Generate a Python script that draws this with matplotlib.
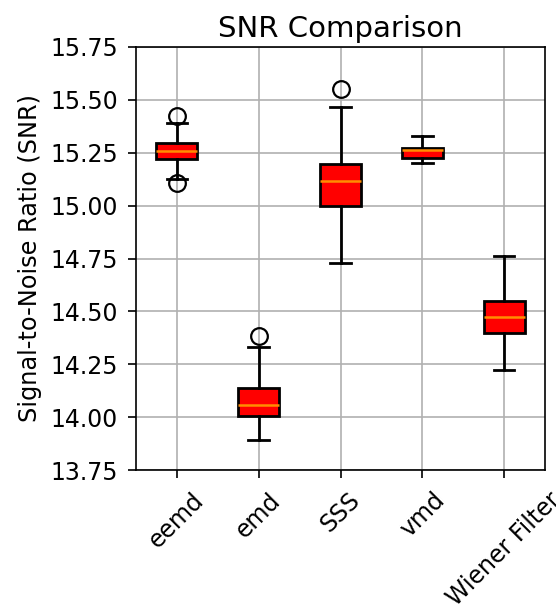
import matplotlib
matplotlib.use("Agg")
import matplotlib.pyplot as plt

methods = ["eemd", "emd", "SSS", "vmd", "Wiener Filter"]
q1 = [15.220, 14.006, 15.000, 15.226, 14.398]
median = [15.260, 14.058, 15.118, 15.261, 14.474]
q3 = [15.295, 14.137, 15.195, 15.274, 14.547]
whisker_low = [15.125, 13.890, 14.730, 15.203, 14.225]
whisker_high = [15.390, 14.330, 15.464, 15.330, 14.762]
outliers = [[15.425, 15.105], [14.385], [15.553], [], []]
yticks = [13.75, 14.00, 14.25, 14.50, 14.75, 15.00, 15.25, 15.50, 15.75]

stats = []
for i, name in enumerate(methods):
    stats.append(dict(label=name, q1=q1[i], med=median[i], q3=q3[i],
                      whislo=whisker_low[i], whishi=whisker_high[i],
                      fliers=outliers[i]))

fig = plt.figure(figsize=(5.56, 6.09), dpi=100)
ax = fig.add_axes([136/556, 139/609, 409/556, 423/609])

ax.bxp(stats, patch_artist=True, widths=0.5,
       boxprops=dict(facecolor="red", edgecolor="black", linewidth=2.0),
       medianprops=dict(color="#ff8c00", linewidth=1.8),
       whiskerprops=dict(color="black", linewidth=2.0),
       capprops=dict(color="black", linewidth=2.0),
       flierprops=dict(marker="o", markerfacecolor="none", markeredgecolor="black",
                       markersize=12, markeredgewidth=1.6))

ax.set_ylim(13.75, 15.75)
ax.set_yticks(yticks)
ax.set_yticklabels([f"{v:.2f}" for v in yticks])
ax.set_xlim(0.5, 5.5)
ax.grid(True, color="#b0b0b0", linewidth=1.2)
ax.set_axisbelow(True)
for s in ax.spines.values():
    s.set_linewidth(1.2)
ax.tick_params(axis="both", labelsize=17, width=1.2, length=5.5, pad=7.5)
plt.setp(ax.get_xticklabels(), rotation=45)
ax.set_ylabel("Signal-to-Noise Ratio (SNR)", fontsize=17.3, labelpad=6)
ax.set_title("SNR Comparison", fontsize=21, pad=7)

fig.savefig("out.png", dpi=100)
